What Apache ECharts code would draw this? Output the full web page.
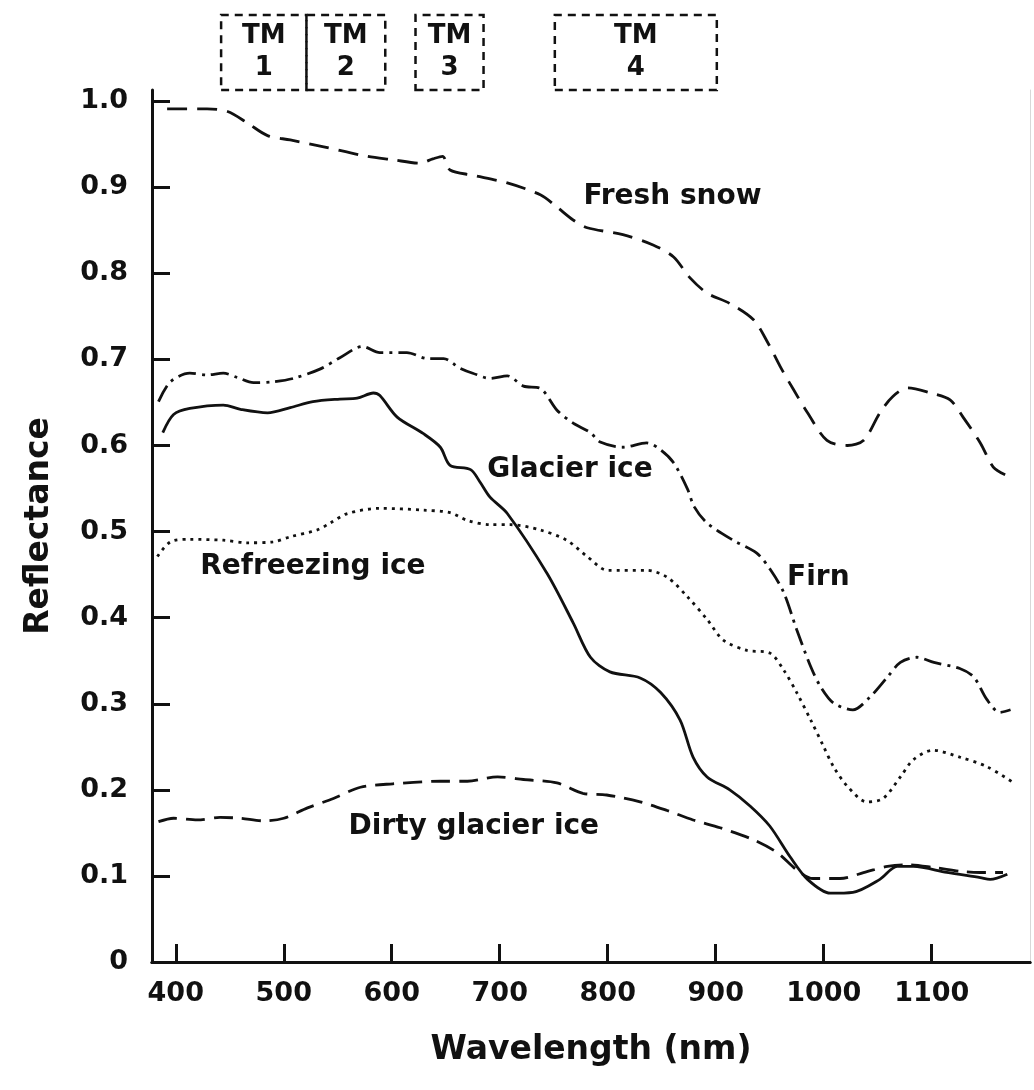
<!DOCTYPE html>
<html>
<head>
<meta charset="utf-8">
<script src="https://cdn.jsdelivr.net/npm/echarts@6/dist/echarts.min.js"></script>
<style>
  html, body { margin: 0; padding: 0; background: #fff; }
  #chart { width: 1034px; height: 1090px; }
</style>
</head>
<body>
<div id="chart"></div>
<script>
// reflectance curves, [wavelength nm, reflectance]
var freshSnow = [[392,0.991],[429,0.991],[448,0.988],[466,0.975],[485,0.960],[506,0.955],[537,0.947],[577,0.936],[601,0.932],[626,0.928],[638,0.933],[647,0.936],[654,0.920],[675,0.914],[707,0.905],[738,0.891],[753,0.877],[768,0.862],[781,0.853],[814,0.845],[842,0.833],[861,0.819],[876,0.795],[892,0.777],[913,0.765],[935,0.746],[948,0.720],[960,0.691],[972,0.665],[985,0.638],[1003,0.606],[1022,0.600],[1037,0.606],[1052,0.638],[1064,0.657],[1078,0.667],[1099,0.661],[1117,0.653],[1129,0.633],[1145,0.603],[1157,0.575],[1168,0.566]];
var firn = [[384,0.651],[395,0.674],[413,0.684],[429,0.682],[444,0.684],[457,0.679],[472,0.673],[490,0.674],[509,0.678],[534,0.689],[552,0.702],[573,0.715],[589,0.708],[614,0.708],[633,0.701],[648,0.701],[663,0.690],[675,0.684],[691,0.678],[707,0.681],[722,0.669],[738,0.666],[753,0.641],[768,0.626],[784,0.615],[793,0.604],[814,0.598],[836,0.603],[849,0.595],[861,0.580],[874,0.549],[880,0.529],[892,0.510],[916,0.490],[938,0.475],[951,0.455],[963,0.429],[975,0.386],[988,0.343],[997,0.320],[1009,0.301],[1027,0.293],[1043,0.308],[1059,0.331],[1071,0.348],[1086,0.354],[1102,0.348],[1126,0.341],[1139,0.331],[1151,0.305],[1163,0.290],[1173,0.293]];
var glacierIce = [[388,0.615],[398,0.636],[413,0.643],[444,0.647],[460,0.642],[485,0.638],[506,0.644],[527,0.651],[552,0.654],[568,0.655],[583,0.661],[589,0.658],[605,0.633],[629,0.614],[645,0.598],[654,0.577],[673,0.572],[682,0.557],[691,0.540],[707,0.521],[744,0.451],[768,0.394],[784,0.354],[802,0.337],[830,0.330],[849,0.313],[867,0.281],[879,0.238],[892,0.215],[913,0.200],[932,0.181],[950,0.158],[969,0.122],[985,0.096],[1006,0.080],[1027,0.081],[1052,0.096],[1068,0.111],[1083,0.111],[1114,0.104],[1145,0.098],[1154,0.096],[1170,0.102]];
var refreezingIce = [[383,0.471],[395,0.488],[413,0.491],[444,0.490],[466,0.487],[490,0.488],[506,0.494],[531,0.502],[543,0.510],[559,0.521],[589,0.527],[629,0.525],[654,0.522],[670,0.513],[691,0.508],[710,0.508],[737,0.502],[762,0.490],[781,0.471],[800,0.455],[836,0.455],[855,0.447],[874,0.424],[892,0.398],[907,0.374],[929,0.362],[950,0.359],[963,0.339],[975,0.313],[988,0.281],[1000,0.250],[1009,0.227],[1022,0.204],[1040,0.186],[1055,0.190],[1071,0.215],[1083,0.235],[1101,0.246],[1126,0.238],[1151,0.227],[1176,0.208]];
var dirtyIce = [[384,0.163],[398,0.167],[420,0.165],[441,0.168],[460,0.167],[481,0.164],[500,0.167],[522,0.179],[546,0.190],[571,0.203],[601,0.207],[645,0.210],[670,0.210],[698,0.215],[722,0.212],[753,0.208],[777,0.196],[799,0.194],[830,0.186],[855,0.176],[879,0.165],[904,0.156],[935,0.142],[957,0.127],[975,0.107],[990,0.097],[1015,0.097],[1040,0.105],[1059,0.111],[1077,0.113],[1101,0.110],[1129,0.105],[1145,0.104],[1166,0.104]];

// curve labels inside the plot
var labelNames = ['Fresh snow', 'Glacier ice', 'Refreezing ice', 'Firn', 'Dirty glacier ice'];
var labelX = [860, 765, 527, 995, 676];
var labelY = [0.889, 0.572, 0.459, 0.446, 0.157];

// Landsat TM bands drawn above the plot
var tmStart = [442, 521, 622, 751];
var tmEnd = [521, 594, 685, 901];
var tmNames = ['1', '2', '3', '4'];

var xTicks = [400, 500, 600, 700, 800, 900, 1000, 1100];
var yTicks = [0, 0.1, 0.2, 0.3, 0.4, 0.5, 0.6, 0.7, 0.8, 0.9, 1.0];

var FONT = '"DejaVu Sans", sans-serif';
var INK = '#111';

var chart = echarts.init(document.getElementById('chart'));

function curve(name, data, dash) {
    return {
        name: name,
        type: 'line',
        xAxisIndex: 0,
        yAxisIndex: 0,
        data: data,
        symbol: 'none',
        smooth: 0.3,
        silent: true,
        lineStyle: { color: INK, width: 2.8, type: dash }
    };
}

var labelData = labelNames.map(function (n, i) { return [labelX[i], labelY[i], n]; });
var tmAreas = tmNames.map(function (n, i) {
    return [{ xAxis: tmStart[i], yAxis: 0, name: 'TM\n' + n }, { xAxis: tmEnd[i], yAxis: 1 }];
});

var option = {
    backgroundColor: '#fff',
    animation: false,
    grid: [
        { left: 152, right: 4, top: 90, bottom: 128 },
        { left: 152, right: 4, top: 15, height: 75 }
    ],
    xAxis: [
        {
            gridIndex: 0, type: 'value', min: 378, max: 1191,
            name: 'Wavelength (nm)', nameLocation: 'middle', nameGap: 72,
            nameTextStyle: { fontFamily: FONT, fontSize: 33, fontWeight: 'bold', color: INK },
            axisLine: { lineStyle: { color: INK, width: 3 } },
            axisTick: { inside: true, length: 18, customValues: xTicks, lineStyle: { color: INK, width: 3 } },
            axisLabel: {
                customValues: xTicks, margin: 18, fontFamily: FONT, fontSize: 27, fontWeight: 'bold', color: INK,
                formatter: function (v) { return String(v); }
            },
            splitLine: { show: false }
        },
        {
            gridIndex: 0, type: 'value', min: 378, max: 1191, position: 'top',
            axisLine: { lineStyle: { color: INK, width: 3 } },
            axisTick: { show: false }, axisLabel: { show: false }, splitLine: { show: false }
        },
        {
            gridIndex: 1, type: 'value', min: 378, max: 1191, show: false
        }
    ],
    yAxis: [
        {
            gridIndex: 0, type: 'value', min: 0, max: 1.013,
            name: 'Reflectance', nameLocation: 'middle', nameGap: 96,
            nameTextStyle: { fontFamily: FONT, fontSize: 33, fontWeight: 'bold', color: INK },
            axisLine: { show: true, lineStyle: { color: INK, width: 3 } },
            axisTick: { show: true, inside: true, length: 18, customValues: yTicks, lineStyle: { color: INK, width: 3 } },
            axisLabel: {
                customValues: yTicks, margin: 24, fontFamily: FONT, fontSize: 27, fontWeight: 'bold', color: INK,
                formatter: function (v) { return v === 0 ? '0' : v.toFixed(1); }
            },
            splitLine: { show: false }
        },
        {
            gridIndex: 0, type: 'value', min: 0, max: 1.013, position: 'right',
            axisLine: { show: true, lineStyle: { color: '#d8d8d8', width: 1 } },
            axisTick: { show: false }, axisLabel: { show: false }, splitLine: { show: false }
        },
        {
            gridIndex: 1, type: 'value', min: 0, max: 1, show: false
        }
    ],
    series: [
        curve('Fresh snow', freshSnow, [20, 10]),
        curve('Firn', firn, [18, 6, 3, 6]),
        curve('Glacier ice', glacierIce, 'solid'),
        curve('Refreezing ice', refreezingIce, [3, 5]),
        curve('Dirty glacier ice', dirtyIce, [19, 9]),
        {
            type: 'scatter',
            xAxisIndex: 0, yAxisIndex: 0,
            data: labelData,
            symbolSize: 0,
            silent: true,
            itemStyle: { opacity: 1, color: INK },
            label: {
                show: true, position: 'inside',
                formatter: function (p) { return p.data[2]; },
                fontFamily: FONT, fontSize: 28, fontWeight: 'bold', color: INK
            }
        },
        {
            type: 'line',
            xAxisIndex: 2, yAxisIndex: 2,
            data: [],
            silent: true,
            markArea: {
                silent: true,
                itemStyle: { color: 'rgba(0,0,0,0)', borderColor: INK, borderWidth: 2.5, borderType: [8, 6] },
                label: {
                    show: true, position: 'inside',
                    fontFamily: FONT, fontSize: 26, fontWeight: 'bold', color: INK, lineHeight: 32
                },
                data: tmAreas
            }
        }
    ]
};

chart.setOption(option);
</script>
</body>
</html>
